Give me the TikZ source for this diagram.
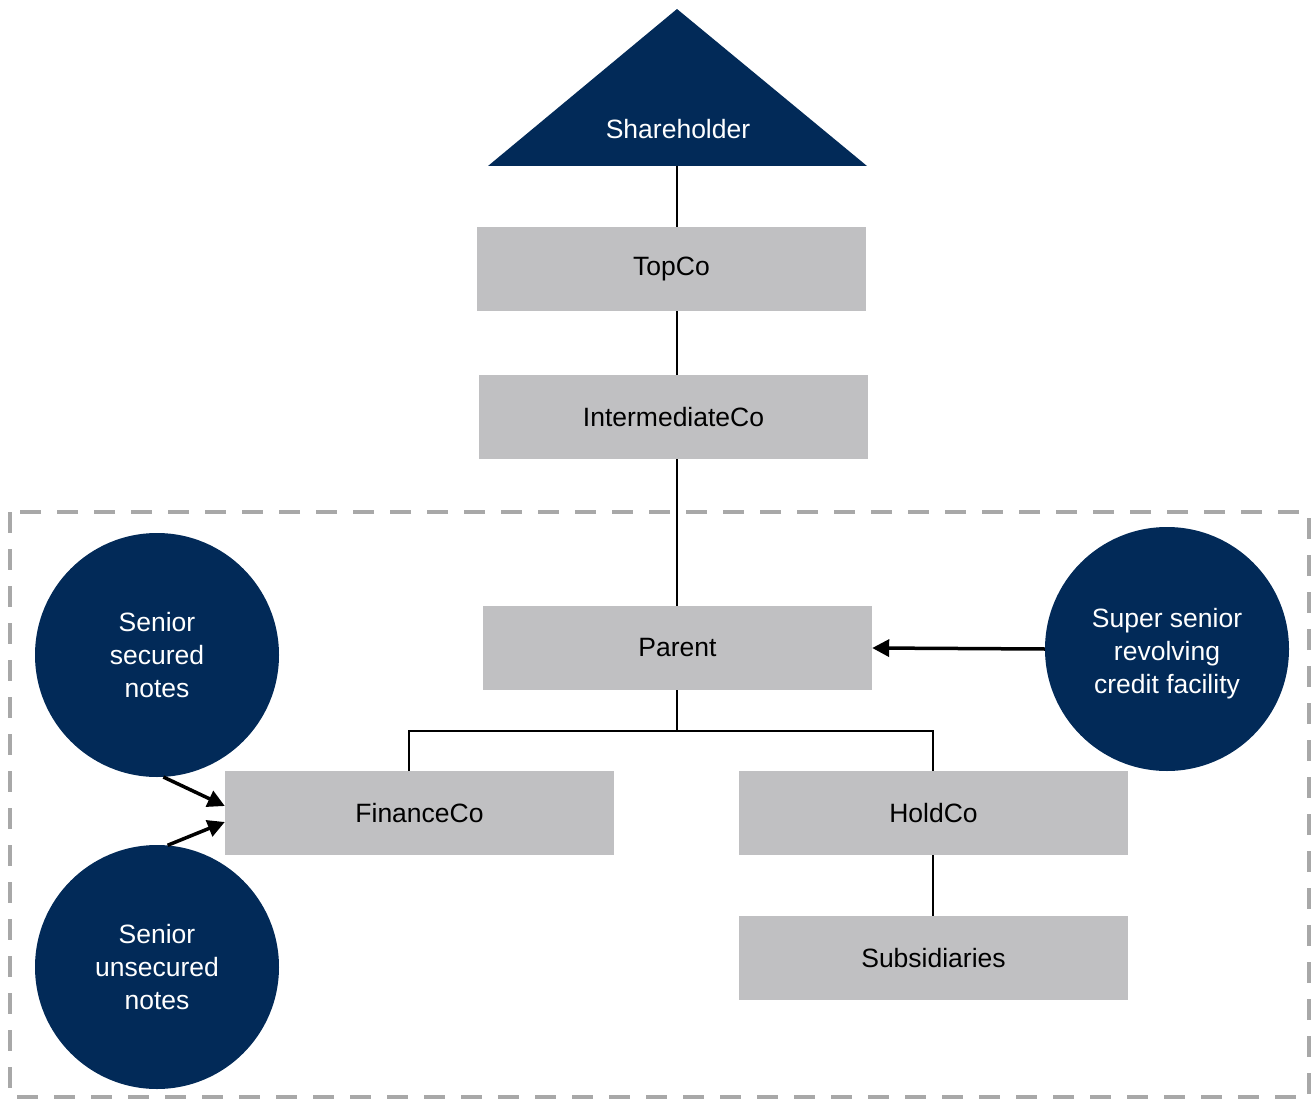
\documentclass[tikz,border=0pt]{standalone}
\usepackage{fontspec}
\setmainfont{Liberation Sans}
\usetikzlibrary{arrows.meta}
\definecolor{navy}{HTML}{022A58}
\definecolor{boxgray}{HTML}{C0C0C2}
\definecolor{dashgray}{HTML}{A8A8A8}
\begin{document}
\begin{tikzpicture}[x=1pt,y=-1pt,
  font=\fontsize{26.5}{33}\selectfont,
  entity/.style={fill=boxgray, minimum width=389pt, minimum height=84pt, inner sep=0pt},
  fund/.style={circle, fill=navy, text=white, minimum size=244pt, inner sep=0pt, align=center},
  link/.style={line width=2pt, black},
  arr/.style={line width=3.5pt, black, -{Triangle[length=17pt,width=17pt]}}]
\useasboundingbox (0,0) rectangle (1312,1099);
% dashed perimeter
\draw[dashgray, line width=3.5pt, dash pattern=on 21pt off 16pt] (10,512) rectangle (1309,1097);
% shareholder triangle
\fill[navy] (488,166) -- (677,9) -- (867,166) -- cycle;
\node[text=white] (sh) at (678,129) {Shareholder};
\coordinate (shb) at (677,166);
% entities
\node[entity] (top) at (671.5,269) {TopCo};
\node[entity] (int) at (673.5,417) {IntermediateCo};
\node[entity] (par) at (677.5,648) {Parent};
\node[entity] (fin) at (419.5,813) {FinanceCo};
\node[entity] (hold) at (933.5,813) {HoldCo};
\node[entity] (sub) at (933.5,958) {Subsidiaries};
% funding circles
\node[fund] (sec) at (157,655) {Senior\\secured\\notes};
\node[fund] (uns) at (157,967) {Senior\\unsecured\\notes};
\node[fund] (ss) at (1167,649) {};
\node[text=white, align=center] (sstext) at (1167,654) {Super senior\\revolving\\credit facility};
% connectors
\draw[link] (shb) -- (shb |- top.north);
\draw[link] (top.south -| shb) -- (int.north -| shb);
\draw[link] (int.south -| shb) -- (par.north -| shb);
\coordinate (finTop) at ([xshift=-11pt]fin.north);
\coordinate (bus) at (677,731);
\draw[link] (par.south -| bus) -- (bus);
\draw[link] (finTop) |- (bus) -| ([xshift=-0.5pt]hold.north);
\draw[link] ([xshift=-0.5pt]hold.south) -- ([xshift=-0.5pt]sub.north);
% arrows
\draw[arr] (ss.west) -- (par.east);
\draw[arr] (sec.-87) -- ([yshift=7pt]fin.west);
\draw[arr] (uns.85) -- ([yshift=-9pt]fin.west);
\end{tikzpicture}
\end{document}
